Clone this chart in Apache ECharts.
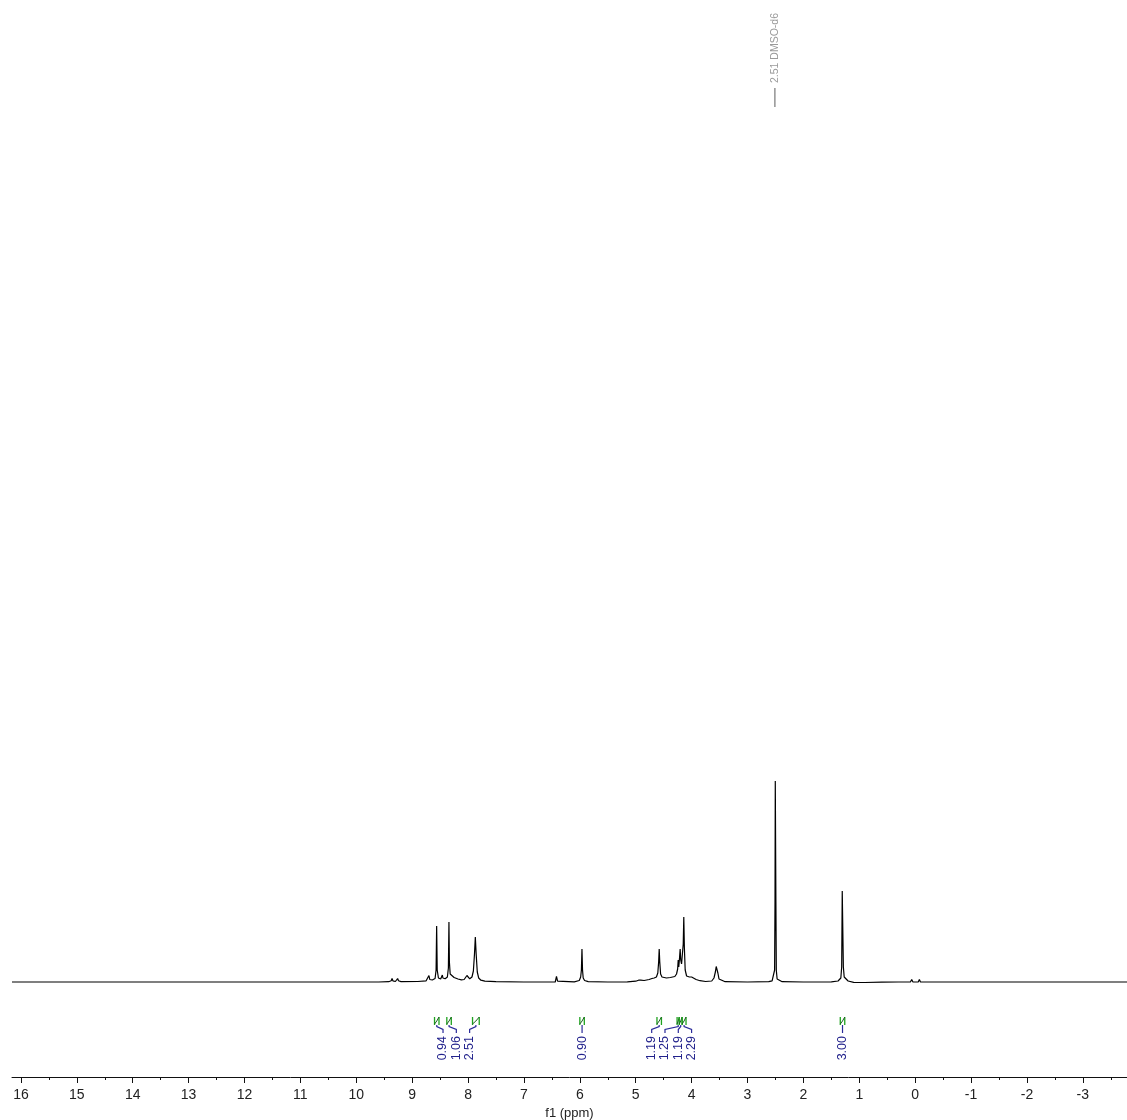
<!DOCTYPE html>
<html><head><meta charset="utf-8">
<script src="https://cdn.jsdelivr.net/npm/echarts@6/dist/echarts.min.js"></script>
<style>html,body{margin:0;padding:0;background:#fff}#c{width:1127px;height:1120px}</style>
</head><body><div id="c"></div>
<script>
// ---- data ----
const tickLabels = [16,15,14,13,12,11,10,9,8,7,6,5,4,3,2,1,0,-1,-2,-3];
const minorTicks = [15.5,14.5,13.5,12.5,11.5,10.5,9.5,8.5,7.5,6.5,5.5,4.5,3.5,2.5,1.5,0.5,-0.5,-1.5,-2.5,-3.5];
const axisRange = [16.16, -3.79];

// [ppm, intensity] trace points
const spectrum = [
[16.16,0],[9.60,0],[9.42,0.3],[9.375,1.2],[9.36,3.5],[9.345,1.2],[9.30,0.5],[9.275,1.2],[9.26,3.5],[9.245,1.2],[9.20,0.4],
[8.90,0.5],[8.75,1.2],[8.715,2.5],[8.70,6.5],[8.685,2.5],[8.64,2],[8.59,3.5],[8.572,12],[8.562,56],[8.552,12],[8.53,4],
[8.49,3],[8.47,4],[8.46,7],[8.45,4],[8.41,3.2],[8.37,5],[8.352,14],[8.342,60],[8.334,20],[8.32,8],[8.30,6],[8.25,4.5],
[8.18,3],[8.12,2.2],[8.07,2.5],[8.035,4.5],[8.02,6.5],[8.005,4.5],[7.97,3.2],[7.93,5],[7.905,11],[7.885,28],[7.87,45],
[7.855,28],[7.835,10],[7.81,4],[7.77,1.8],[7.70,0.8],[7.50,0.3],[7.00,0],
[6.44,0],[6.425,0.8],[6.418,5.5],[6.405,5.5],[6.398,0.8],[6.38,0],
[6.10,0.2],[6.01,1.5],[5.985,5],[5.972,12],[5.962,33],[5.952,12],[5.94,4],[5.915,1.5],[5.85,0.4],[5.50,0],
[5.15,0.2],[5.00,0.8],[4.95,1.8],[4.93,3],[4.91,1.8],[4.85,1.5],[4.76,2.5],[4.71,3.5],[4.69,4.5],[4.67,4],[4.63,5],
[4.605,9],[4.59,20],[4.58,33],[4.57,20],[4.555,8],[4.53,5],[4.45,4],[4.38,4.5],[4.30,5.5],[4.27,8],[4.25,13],[4.24,22],
[4.23,15],[4.215,25],[4.205,33],[4.195,22],[4.18,18],[4.165,28],[4.15,38],[4.14,65],[4.13,35],[4.115,12],[4.09,6],
[4.04,5],[4.00,5],[3.985,6.5],[3.97,4.5],[3.92,2.5],[3.85,1.3],[3.75,0.5],[3.64,1],[3.60,4],[3.575,10],[3.56,15.5],
[3.545,15],[3.53,9],[3.51,3],[3.48,1],[3.40,0.3],[3.00,0],
[2.62,0.3],[2.56,1.2],[2.53,3],[2.515,12],[2.508,80],[2.503,201],[2.498,200],[2.492,80],[2.485,12],[2.47,3],[2.44,1.2],[2.38,0.3],[2.0,0],
[1.50,0.2],[1.38,1],[1.33,4],[1.315,15],[1.305,91],[1.297,91],[1.285,15],[1.27,5],[1.255,4.5],[1.24,3],[1.20,1],
[1.10,-0.3],[0.90,-0.5],[0.60,-0.2],[0.30,0],
[0.085,0],[0.07,0.5],[0.062,2.5],[0.055,0.5],[0.04,0],[-0.055,0],[-0.068,0.5],[-0.075,2.5],[-0.082,0.5],[-0.095,0],[-3.79,0]
];

const integralRanges = [[8.60,8.52],[8.38,8.30],[7.92,7.80],[6.00,5.92],[4.62,4.54],[4.26,4.22],[4.22,4.17],[4.17,4.10],[1.34,1.26]];
const integralValues = [0.94,1.06,2.51,0.90,1.19,1.25,1.19,2.29,3.00];

const peakLabelPpm = [2.51];
const peakLabelText = ['2.51 DMSO-d6'];

// ---- chart ----
const FONT = '"Liberation Sans", Arial, Helvetica, sans-serif';
const chart = echarts.init(document.getElementById('c'), null, {renderer: 'canvas'});

function labelPositions(api) {
  const centers = integralRanges.map((r, i) => ({i, x: (api.coord([r[0], 0])[0] + api.coord([r[1], 0])[0]) / 2}));
  centers.sort((a, b) => a.x - b.x);
  const groups = [];
  centers.forEach(c => {
    const g = groups[groups.length - 1];
    if (g && c.x - g[g.length - 1].x < 30) g.push(c); else groups.push([c]);
  });
  const out = [];
  const gap = 13.3;
  groups.forEach(g => {
    const mid = (g[0].x + g[g.length - 1].x) / 2;
    g.forEach((c, k) => { out[c.i] = mid + (k - (g.length - 1) / 2) * gap; });
  });
  return out;
}

chart.setOption({
  animation: false,
  backgroundColor: '#fff',
  grid: {left: 12, right: 0, top: 82, bottom: 43, containLabel: false, outerBoundsMode: 'none'},
  xAxis: [{
    type: 'value', inverse: true, min: axisRange[1], max: axisRange[0],
    axisLine: {show: true, onZero: false, lineStyle: {color: '#111', width: 1}},
    axisTick: {show: true, customValues: tickLabels, length: 6, lineStyle: {color: '#111', width: 1}},
    axisLabel: {show: true, customValues: tickLabels, fontSize: 14, fontFamily: FONT, color: '#222', margin: 11,
      formatter: v => String(v)},
    splitLine: {show: false},
    name: 'f1 (ppm)', nameLocation: 'middle', nameGap: 25,
    nameTextStyle: {fontSize: 13, fontFamily: FONT, color: '#222'}
  }, {
    type: 'value', inverse: true, min: axisRange[1], max: axisRange[0], position: 'bottom',
    axisLine: {show: false, onZero: false},
    axisTick: {show: true, customValues: minorTicks, length: 3, lineStyle: {color: '#111', width: 1}},
    axisLabel: {show: false},
    splitLine: {show: false}
  }],
  yAxis: {type: 'value', min: -95, max: 900, show: false, splitLine: {show: false}},
  series: [{
    type: 'line', xAxisIndex: 0, data: spectrum, showSymbol: false, symbol: 'none',
    lineStyle: {color: '#000', width: 1.2}, silent: true
  }, {
    type: 'custom', xAxisIndex: 0,
    data: integralValues.map((v, i) => [(integralRanges[i][0] + integralRanges[i][1]) / 2, 0, v]),
    encode: {x: 0, y: 1},
    renderItem: function (params, api) {
      const i = params.dataIndex;
      const r = integralRanges[i];
      const y0 = api.coord([0, 0])[1];
      const xs = api.coord([r[0], 0])[0], xe = api.coord([r[1], 0])[0];
      const cx = (xs + xe) / 2;
      const lx = labelPositions(api)[i];
      const gT = y0 + 35, gB = y0 + 43;
      const b1 = gB, b2 = y0 + 47, b3 = y0 + 51;
      return {type: 'group', children: [
        {type: 'line', shape: {x1: xs, y1: gT, x2: xs, y2: gB}, style: {stroke: '#1fa21f', lineWidth: 1.3}},
        {type: 'line', shape: {x1: xe, y1: gT, x2: xe, y2: gB}, style: {stroke: '#1fa21f', lineWidth: 1.3}},
        {type: 'polyline', shape: {points: [[xs, gB - 1], [cx, gT + 4], [xe, gT]]}, style: {stroke: '#1b5e20', fill: null, lineWidth: 1}},
        {type: 'polyline', shape: {points: [[cx, b1], [cx, b1 + 1.5], [lx, b2 + 0.5], [lx, b3]]},
          style: {stroke: '#2a2a9a', fill: null, lineWidth: 1.2}},
        {type: 'text', x: lx, y: b3 + 3, rotation: Math.PI / 2,
          style: {text: integralValues[i].toFixed(2), fill: '#22228c', font: '12.5px ' + FONT, align: 'right', verticalAlign: 'middle'}}
      ]};
    }
  }, {
    type: 'custom', xAxisIndex: 0,
    data: peakLabelPpm.map(p => [p, 900]),
    encode: {x: 0, y: 1},
    renderItem: function (params, api) {
      const i = params.dataIndex;
      const p = api.coord([peakLabelPpm[i], 900]);
      return {type: 'group', children: [
        {type: 'line', shape: {x1: p[0], y1: p[1] + 6, x2: p[0], y2: p[1] + 25}, style: {stroke: '#777', lineWidth: 1.2}},
        {type: 'text', x: p[0], y: p[1] + 1, rotation: Math.PI / 2,
          style: {text: peakLabelText[i], fill: '#9a9a9a', font: '10.5px ' + FONT, align: 'left', verticalAlign: 'middle'}}
      ]};
    }
  }]
});
</script>
</body></html>
